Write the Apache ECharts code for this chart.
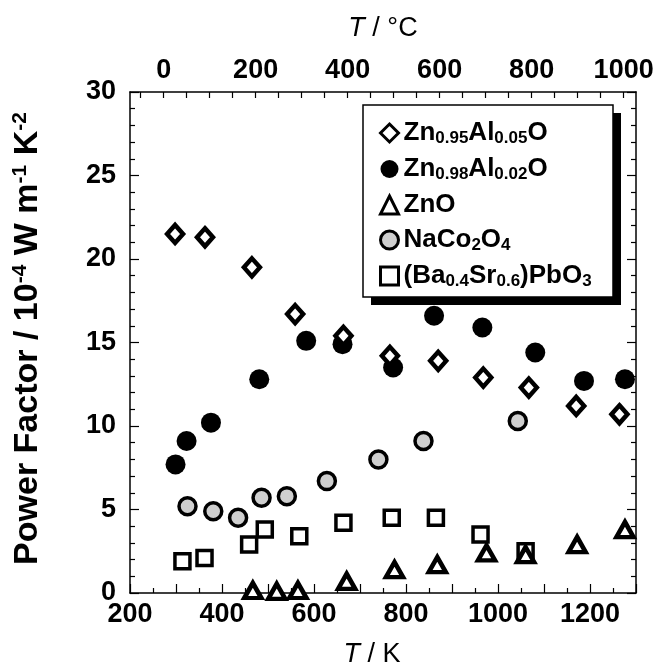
<!DOCTYPE html>
<html>
<head>
<meta charset="utf-8">
<script src="https://cdn.jsdelivr.net/npm/echarts@6/dist/echarts.min.js"></script>
<style>
  html, body { margin: 0; padding: 0; background: #fff; }
  #chart { width: 659px; height: 671px; }
</style>
</head>
<body>
<div id="chart"></div>
<script>
// T / K and power factor (10^-4 W m^-1 K^-2)
var znAl05_T = [298, 363, 465, 559, 664, 765, 870, 968, 1067, 1170, 1264];
var znAl05_PF = [21.5, 21.3, 19.5, 16.7, 15.4, 14.2, 13.9, 12.9, 12.3, 11.2, 10.7];

var znAl02_T = [299, 323, 376, 481, 583, 662, 772, 861, 966, 1081, 1187, 1276];
var znAl02_PF = [7.7, 9.1, 10.2, 12.8, 15.1, 14.9, 13.5, 16.6, 15.9, 14.4, 12.7, 12.8];

var zno_T = [467, 519, 565, 671, 775, 868, 975, 1060, 1172, 1276];
var zno_PF = [0.15, 0.1, 0.15, 0.7, 1.4, 1.7, 2.4, 2.3, 2.9, 3.8];

var naco_T = [325, 381, 435, 486, 541, 628, 740, 838, 1043];
var naco_PF = [5.2, 4.9, 4.5, 5.7, 5.8, 6.7, 8.0, 9.1, 10.3];

var basr_T = [314, 362, 459, 493, 568, 664, 769, 865, 962, 1060];
var basr_PF = [1.9, 2.1, 2.9, 3.8, 3.4, 4.2, 4.5, 4.5, 3.5, 2.5];

var kTicks = [200, 400, 600, 800, 1000, 1200];
var cLabels = [0, 200, 400, 600, 800, 1000];
var cTicks = [-50, 0, 50, 100, 150, 200, 250, 300, 350, 400, 450, 500, 550, 600, 650, 700, 750, 800, 850, 900, 950, 1000];

var seriesNames = ['Zn0.95Al0.05O', 'Zn0.98Al0.02O', 'ZnO', 'NaCo2O4', '(Ba0.4Sr0.6)PbO3'];
var legendRich = {
  'Zn0.95Al0.05O': '{a|Zn}{s|0.95}{a|Al}{s|0.05}{a|O}',
  'Zn0.98Al0.02O': '{a|Zn}{s|0.98}{a|Al}{s|0.02}{a|O}',
  'ZnO': '{a|ZnO}',
  'NaCo2O4': '{a|NaCo}{s|2}{a|O}{s|4}',
  '(Ba0.4Sr0.6)PbO3': '{a|(Ba}{s|0.4}{a|Sr}{s|0.6}{a|)PbO}{s|3}'
};

function pairs(xs, ys) {
  return xs.map(function (x, i) { return [x, ys[i]]; });
}

var font = '"Liberation Sans", Arial, sans-serif';
var black = '#000';

var chart = echarts.init(document.getElementById('chart'));
chart.setOption({
  animation: false,
  backgroundColor: '#fff',
  textStyle: { fontFamily: font, color: black },
  grid: { left: 130, right: 23, top: 92, bottom: 78, containLabel: false, outerBoundsMode: 'none' },
  // legend frame with its solid drop shadow
  graphic: [
    { type: 'rect', z: 10, shape: { x: 371, y: 113, width: 250, height: 192 }, style: { fill: black } },
    { type: 'rect', z: 11, shape: { x: 363, y: 105, width: 250, height: 192 }, style: { fill: '#fff', stroke: black, lineWidth: 1.5 } }
  ],
  legend: {
    z: 12,
    orient: 'vertical',
    left: 363,
    top: 105,
    padding: [15, 14, 10, 16],
    itemGap: 9,
    itemWidth: 18,
    itemHeight: 18,
    itemStyle: { borderWidth: 3 },
    data: seriesNames,
    formatter: function (name) { return legendRich[name]; },
    textStyle: {
      rich: {
        a: { fontSize: 26, lineHeight: 28, fontWeight: 'bold', fontFamily: font, color: black },
        s: { fontSize: 17, lineHeight: 17, fontWeight: 'bold', fontFamily: font, color: black, verticalAlign: 'bottom' }
      }
    }
  },
  xAxis: [
    {
      type: 'value',
      position: 'bottom',
      min: 200,
      max: 1300,
      interval: 100,
      name: '{i|T} / K',
      nameLocation: 'middle',
      nameGap: 48,
      nameTextStyle: {
        fontSize: 27, fontFamily: font, color: black, padding: [0, 22, 0, 0],
        rich: { i: { fontSize: 27, fontStyle: 'italic', fontFamily: font, color: black } }
      },
      axisLine: { onZero: false, lineStyle: { color: black, width: 1.5 } },
      axisTick: { inside: true, length: 9, lineStyle: { color: black, width: 1.2 } },
      minorTick: { show: true, splitNumber: 2, length: 5, lineStyle: { color: black, width: 1.2 } },
      axisLabel: {
        fontSize: 27, fontWeight: 'bold', fontFamily: font, color: black, margin: 8,
        formatter: function (v) { return kTicks.indexOf(v) >= 0 ? String(v) : ''; }
      },
      splitLine: { show: false }
    },
    {
      type: 'value',
      position: 'top',
      min: -73.15,
      max: 1026.85,
      name: '{i|T} / °C',
      nameLocation: 'middle',
      nameGap: 50,
      nameTextStyle: {
        fontSize: 27, fontFamily: font, color: black,
        rich: { i: { fontSize: 27, fontStyle: 'italic', fontFamily: font, color: black } }
      },
      axisLine: { onZero: false, lineStyle: { color: black, width: 1.5 } },
      axisTick: { inside: true, length: 6, customValues: cTicks, lineStyle: { color: black, width: 1.2 } },
      axisLabel: {
        fontSize: 27, fontWeight: 'bold', fontFamily: font, color: black, margin: 8,
        customValues: cLabels,
        formatter: function (v) { return String(Math.round(v)); }
      },
      splitLine: { show: false }
    }
  ],
  yAxis: [
    {
      type: 'value',
      position: 'left',
      min: 0,
      max: 30,
      interval: 5,
      name: 'Power Factor / 10{p|-4} W m{p|-1} K{p|-2}',
      nameLocation: 'middle',
      nameRotate: 90,
      nameGap: 84,
      nameTextStyle: {
        fontSize: 34, fontWeight: 'bold', fontFamily: font, color: black, lineHeight: 36,
        padding: [0, 0, 0, 8],
        rich: { p: { fontSize: 21, lineHeight: 21, fontWeight: 'bold', fontFamily: font, color: black, verticalAlign: 'top' } }
      },
      axisLine: { onZero: false, lineStyle: { color: black, width: 1.5 } },
      axisTick: { inside: true, length: 9, lineStyle: { color: black, width: 1.2 } },
      minorTick: { show: true, splitNumber: 5, length: 5, lineStyle: { color: black, width: 1.2 } },
      axisLabel: { fontSize: 27, fontWeight: 'bold', fontFamily: font, color: black, margin: 14 },
      splitLine: { show: false }
    },
    {
      type: 'value',
      position: 'right',
      min: 0,
      max: 30,
      interval: 5,
      axisLine: { onZero: false, lineStyle: { color: black, width: 1.5 } },
      axisTick: { inside: true, length: 9, lineStyle: { color: black, width: 1.2 } },
      minorTick: { show: true, splitNumber: 5, length: 5, lineStyle: { color: black, width: 1.2 } },
      axisLabel: { show: false },
      splitLine: { show: false }
    }
  ],
  series: [
    {
      name: seriesNames[0], type: 'scatter', symbol: 'diamond', symbolSize: [16, 18],
      itemStyle: { color: '#fff', borderColor: black, borderWidth: 4.5, opacity: 1 },
      data: pairs(znAl05_T, znAl05_PF), z: 3
    },
    {
      name: seriesNames[1], type: 'scatter', symbol: 'circle', symbolSize: 20,
      itemStyle: { color: black, opacity: 1 },
      data: pairs(znAl02_T, znAl02_PF), z: 2
    },
    {
      name: seriesNames[2], type: 'scatter', symbol: 'triangle', symbolSize: [17, 15],
      itemStyle: { color: '#fff', borderColor: black, borderWidth: 4.5, opacity: 1 },
      data: pairs(zno_T, zno_PF), z: 4
    },
    {
      name: seriesNames[3], type: 'scatter', symbol: 'circle', symbolSize: 17,
      itemStyle: { color: '#cfcfcf', borderColor: black, borderWidth: 3.5, opacity: 1 },
      data: pairs(naco_T, naco_PF), z: 2
    },
    {
      name: seriesNames[4], type: 'scatter', symbol: 'rect', symbolSize: 15,
      itemStyle: { color: '#fff', borderColor: black, borderWidth: 3.5, opacity: 1 },
      data: pairs(basr_T, basr_PF), z: 3
    }
  ]
});
</script>
</body>
</html>
